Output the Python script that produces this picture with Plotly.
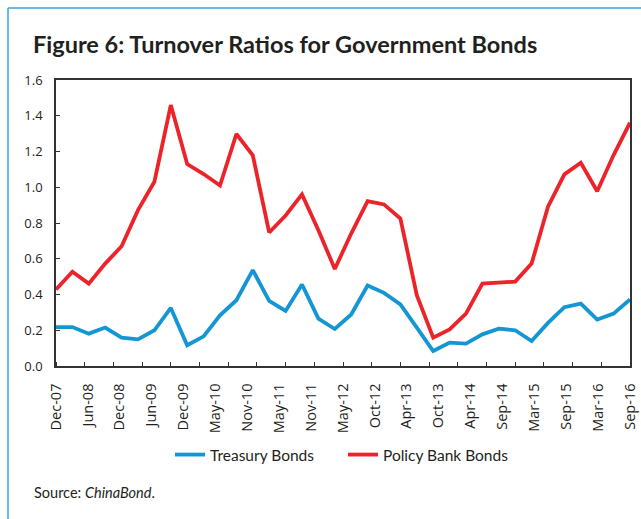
import plotly.graph_objects as go

tick_labels = ["Dec-07", "Jun-08", "Dec-08", "Jun-09", "Dec-09", "May-10", "Nov-10",
               "May-11", "Nov-11", "May-12", "Oct-12", "Apr-13", "Oct-13", "Apr-14",
               "Sep-14", "Mar-15", "Sep-15", "Mar-16", "Sep-16"]

treasury = [0.218, 0.218, 0.181, 0.215, 0.159, 0.149, 0.200, 0.325, 0.116, 0.166,
            0.284, 0.368, 0.536, 0.364, 0.308, 0.456, 0.265, 0.207, 0.288, 0.450,
            0.409, 0.345, 0.215, 0.084, 0.131, 0.125, 0.177, 0.209, 0.200, 0.140,
            0.241, 0.329, 0.349, 0.260, 0.293, 0.372]

policy = [0.428, 0.527, 0.461, 0.573, 0.670, 0.872, 1.031, 1.460, 1.130, 1.074,
          1.010, 1.298, 1.178, 0.747, 0.842, 0.960, 0.760, 0.543, 0.741, 0.922,
          0.904, 0.825, 0.396, 0.159, 0.205, 0.293, 0.461, 0.469, 0.472, 0.573,
          0.891, 1.072, 1.137, 0.978, 1.180, 1.361]

y_ticks = [0, 0.2, 0.4, 0.6, 0.8, 1.0, 1.2, 1.4, 1.6]

n = len(policy)
x = list(range(n))
label_pos = [i * (n - 1) / (len(tick_labels) - 1) for i in range(len(tick_labels))]
minor_pos = [i * (n - 1) / 20 for i in range(21)]

W, H = 641, 519
L, R, T, B = 56, 11, 80, 153
pw, ph = W - L - R, H - T - B

def px_x(p):
    return (p - L) / pw

def px_y(p):
    return 1 - (p - T) / ph

fig = go.Figure()
fig.add_trace(go.Scatter(x=x, y=treasury, mode="lines", name="Treasury Bonds",
                         line=dict(color="#1396d3", width=3.8)))
fig.add_trace(go.Scatter(x=x, y=policy, mode="lines", name="Policy Bank Bonds",
                         line=dict(color="#ec2329", width=3.8)))

title_font = "Lato, 'Open Sans', sans-serif"
tick_font = "'Open Sans', 'Noto Sans', sans-serif"

fig.update_layout(
    width=W, height=H,
    margin=dict(l=L, r=R, t=T, b=B, autoexpand=False),
    paper_bgcolor="white", plot_bgcolor="white",
    font=dict(family=tick_font, color="#231f20", size=13),
    showlegend=True,
    legend=dict(orientation="h", x=170 / W, xanchor="left", xref="container",
                y=1 - 455 / H, yanchor="middle", yref="container",
                font=dict(size=15.5, family=title_font, color="#231f20"),
                entrywidth=128, entrywidthmode="pixels",
                bgcolor="rgba(0,0,0,0)", traceorder="normal", tracegroupgap=0),
    xaxis=dict(range=[0, n - 1], tickmode="array", tickvals=label_pos, ticktext=tick_labels,
               tickangle=-90, ticks="", showgrid=False, zeroline=False,
               showline=True, linecolor="#333333", linewidth=1.5, mirror=True,
               tickfont=dict(size=14.5), ticklabelstandoff=10,
               minor=dict(tickmode="array", tickvals=minor_pos, ticks="inside",
                          ticklen=4, tickcolor="#333333", tickwidth=1, showgrid=False)),
    yaxis=dict(range=[0, 1.6], tickmode="array", tickvals=y_ticks,
               ticktext=["%.1f" % v for v in y_ticks],
               ticks="inside", ticklen=4, tickcolor="#333333", tickwidth=1,
               showgrid=False, zeroline=False,
               showline=True, linecolor="#333333", linewidth=1.5, mirror=True,
               tickfont=dict(size=13), ticklabelstandoff=9),
)

# Title
fig.add_annotation(text="<b>Figure 6: Turnover Ratios for Government Bonds</b>",
                   xref="paper", yref="paper", x=px_x(31), y=px_y(44),
                   xanchor="left", yanchor="middle", showarrow=False,
                   font=dict(size=23.5, family=title_font, color="#231f20"))
# Source
fig.add_annotation(text="Source: <i>ChinaBond</i>.",
                   xref="paper", yref="paper", x=px_x(32), y=px_y(492),
                   xanchor="left", yanchor="middle", showarrow=False,
                   font=dict(size=14.5, family=title_font, color="#231f20"))

# Frame border (left and top)
border = "#3aa6dc"
fig.add_shape(type="line", xref="paper", yref="paper",
              x0=px_x(8), y0=px_y(8), x1=px_x(8), y1=px_y(H + 5),
              line=dict(color=border, width=1.5))
fig.add_shape(type="line", xref="paper", yref="paper",
              x0=px_x(8), y0=px_y(8), x1=px_x(W + 5), y1=px_y(8),
              line=dict(color=border, width=1.5))

fig.write_html("out.html", config={"displayModeBar": False},
               post_script="document.body.style.margin='0';document.body.style.overflow='hidden';")
